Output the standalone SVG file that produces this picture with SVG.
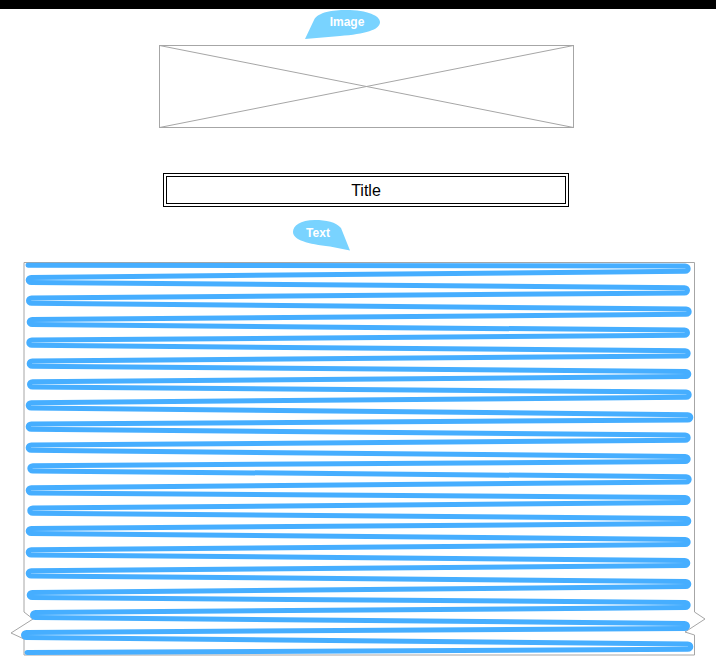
<svg xmlns="http://www.w3.org/2000/svg" width="716" height="665" viewBox="0 0 716 665">
<style>
.ph{fill:none;stroke:#a6a6a6;stroke-width:1}
.callout{fill:#79d3ff;stroke:none}
.ctext{font-family:"Liberation Sans",Arial,sans-serif;font-size:12px;font-weight:bold;fill:#ffffff;text-anchor:middle}
.title{font-family:"Liberation Sans",Arial,sans-serif;font-size:16px;fill:#000000;text-anchor:middle}
.scribble{fill:none;stroke:#46aeff;stroke-width:5;stroke-linecap:round;stroke-linejoin:round}
</style>
<rect x="0" y="0" width="716" height="665" fill="#ffffff"/>
<rect x="0" y="0" width="716" height="9" fill="#000000"/>
<g id="image-placeholder">
<rect class="ph" x="159.5" y="45.5" width="414" height="82"/>
<line class="ph" x1="159.5" y1="45.5" x2="573.5" y2="127.5"/>
<line class="ph" x1="573.5" y1="45.5" x2="159.5" y2="127.5"/>
</g>
<g id="image-callout">
<path class="callout" d="M305,39 L314,20 C318,12 333,10 346,10 C368,10 380,16 380,22 C380,30 365,34 340,36 Z"/>
<text class="ctext" x="347" y="26">Image</text>
</g>
<g id="title">
<rect x="163.5" y="173.5" width="405" height="33" fill="#ffffff" stroke="#000000" stroke-width="1"/>
<rect x="166.5" y="176.5" width="399" height="27" fill="none" stroke="#000000" stroke-width="1"/>
<text class="title" x="366" y="196">Title</text>
</g>
<g id="text-callout">
<path class="callout" d="M350,250.5 L341,228 C336,222 326,220 315,220 C300,220 293,226 293,232 C293,240 308,244 330,246.5 Z"/>
<text class="ctext" x="318" y="237">Text</text>
</g>
<g id="text-block">
<path class="ph" d="M24,262.5 H694.5 V612 L705,619 L685,632 L694.5,635 V655 H24 V639 L11,633 L33,619 L24,612 Z"/>
<path class="scribble" d="M28,265.2 L685.2,266.1 C689.2,266.1 689.2,271.3 685.2,271.3
L31.2,277.4 C27.2,277.4 27.2,282.6 31.2,282.6
L684.5,287.7 C688.5,287.7 688.5,292.9 684.5,292.9
L31.5,298.1 C27.5,298.1 27.5,303.3 31.5,303.3
L686.2,309.1 C690.2,309.1 690.2,314.3 686.2,314.3
L32.2,319.4 C28.2,319.4 28.2,324.6 32.2,324.6
L684.5,330.1 C688.5,330.1 688.5,335.3 684.5,335.3
L31.8,340.1 C27.8,340.1 27.8,345.3 31.8,345.3
L685.2,350.7 C689.2,350.7 689.2,355.9 685.2,355.9
L32.2,361.1 C28.2,361.1 28.2,366.3 32.2,366.3
L685.8,371.4 C689.8,371.4 689.8,376.6 685.8,376.6
L32.5,381.7 C28.5,381.7 28.5,386.9 32.5,386.9
L686.2,392.1 C690.2,392.1 690.2,397.3 686.2,397.3
L31.2,402.7 C27.2,402.7 27.2,407.9 31.2,407.9
L687.8,414.7 C691.8,414.7 691.8,419.9 687.8,419.9
L31.2,424.1 C27.2,424.1 27.2,429.3 31.2,429.3
L685.2,435.1 C689.2,435.1 689.2,440.3 685.2,440.3
L31.2,445.1 C27.2,445.1 27.2,450.3 31.2,450.3
L685.2,456.4 C689.2,456.4 689.2,461.6 685.2,461.6
L32.8,465.7 C28.8,465.7 28.8,470.9 32.8,470.9
L686.2,476.7 C690.2,476.7 690.2,481.9 686.2,481.9
L31.2,487.7 C27.2,487.7 27.2,492.9 31.2,492.9
L685.2,497.4 C689.2,497.4 689.2,502.6 685.2,502.6
L32.8,508.1 C28.8,508.1 28.8,513.3 32.8,513.3
L685.8,518.4 C689.8,518.4 689.8,523.6 685.8,523.6
L31.2,528.4 C27.2,528.4 27.2,533.6 31.2,533.6
L685.2,539.4 C689.2,539.4 689.2,544.6 685.2,544.6
L31.2,549.7 C27.2,549.7 27.2,554.9 31.2,554.9
L684.8,560.4 C688.8,560.4 688.8,565.6 684.8,565.6
L31.2,570.7 C27.2,570.7 27.2,575.9 31.2,575.9
L685.8,581.4 C689.8,581.4 689.8,586.6 685.8,586.6
L32.2,592.4 C28.2,592.4 28.2,597.6 32.2,597.6
L685.2,602.4 C689.2,602.4 689.2,607.6 685.2,607.6
L35.5,612.4 C31.5,612.4 31.5,617.6 35.5,617.6
L684.5,623.4 C688.5,623.4 688.5,628.6 684.5,628.6
L26.5,632.4 C22.5,632.4 22.5,637.6 26.5,637.6
L687.8,644.1 C691.8,644.1 691.8,649.3 687.8,649.3
L27,652.5"/>
</g>
<g id="connectors"></g>
</svg>
